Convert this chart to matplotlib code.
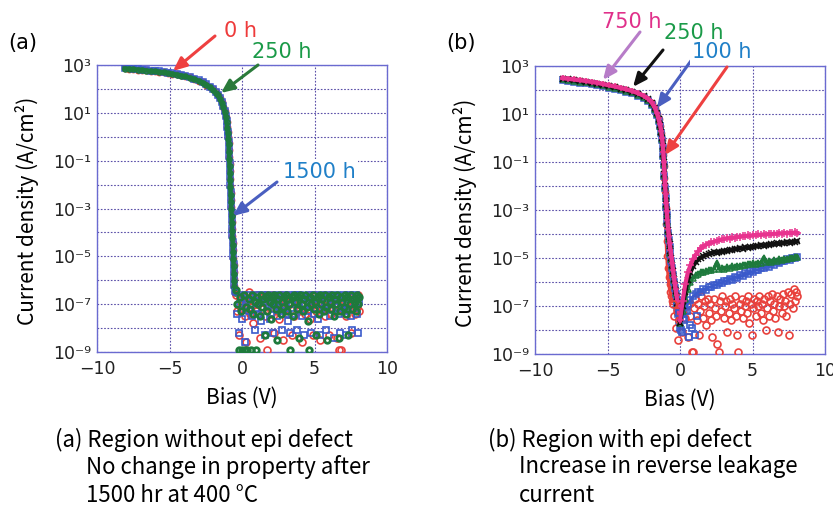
import numpy as np
import matplotlib
matplotlib.use("Agg")
import matplotlib.pyplot as plt

plt.rcParams['font.family'] = ['DejaVu Sans']
LABEL_FONT = ['Noto Sans CJK JP', 'DejaVu Sans']

W, H = 833, 507

# ---- panel (a): region without epi defect (log10 of current density) ----
a_bias_fwd = [-8.10, -7.80, -7.50, -7.20, -6.90, -6.60, -6.30, -6.00, -5.70, -5.40,
              -5.10, -4.80, -4.50, -4.20, -3.90, -3.60, -3.30, -3.00, -2.70, -2.45,
              -2.20, -2.00, -1.82, -1.66, -1.52, -1.40, -1.29, -1.20, -1.12, -1.06,
              -1.01, -0.97, -0.94, -0.92, -0.90, -0.88, -0.86, -0.84, -0.82, -0.80,
              -0.78, -0.76, -0.74, -0.72, -0.70, -0.68, -0.66, -0.64, -0.62, -0.60,
              -0.58, -0.56, -0.54, -0.52, -0.50]
a_logj_fwd_0h = [2.86, 2.85, 2.83, 2.81, 2.80, 2.78, 2.76, 2.74, 2.72, 2.69,
                 2.67, 2.64, 2.61, 2.57, 2.53, 2.48, 2.42, 2.35, 2.27, 2.18,
                 2.08, 1.98, 1.86, 1.74, 1.60, 1.44, 1.26, 1.06, 0.84, 0.62,
                 0.40, 0.18, -0.02, -0.25, -0.55, -0.85, -1.15, -1.45, -1.75, -2.05,
                 -2.35, -2.65, -2.95, -3.25, -3.55, -3.85, -4.15, -4.45, -4.75, -5.05,
                 -5.35, -5.65, -5.95, -6.25, -6.50]
a_logj_fwd_250h = [2.85, 2.84, 2.82, 2.81, 2.79, 2.77, 2.75, 2.73, 2.71, 2.69,
                   2.66, 2.63, 2.60, 2.56, 2.52, 2.47, 2.41, 2.34, 2.26, 2.17,
                   2.07, 1.97, 1.85, 1.73, 1.59, 1.43, 1.25, 1.05, 0.83, 0.60,
                   0.38, 0.15, -0.08, -0.32, -0.62, -0.92, -1.22, -1.52, -1.82, -2.12,
                   -2.42, -2.72, -3.02, -3.32, -3.62, -3.92, -4.22, -4.52, -4.82, -5.12,
                   -5.42, -5.72, -6.02, -6.30, -6.55]
a_logj_fwd_1500h = [2.87, 2.86, 2.84, 2.82, 2.81, 2.79, 2.77, 2.75, 2.73, 2.70,
                    2.68, 2.65, 2.62, 2.58, 2.54, 2.49, 2.43, 2.36, 2.28, 2.19,
                    2.09, 1.99, 1.87, 1.75, 1.61, 1.46, 1.28, 1.08, 0.86, 0.64,
                    0.42, 0.20, 0.02, -0.20, -0.50, -0.80, -1.10, -1.40, -1.70, -2.00,
                    -2.30, -2.60, -2.90, -3.20, -3.50, -3.80, -4.10, -4.40, -4.70, -5.00,
                    -5.30, -5.60, -5.90, -6.20, -6.45]

a_bias_rev = [-0.40, -0.32, -0.23, -0.15, -0.06, 0.03, 0.11, 0.20, 0.28, 0.37,
              0.45, 0.54, 0.62, 0.71, 0.79, 0.88, 0.96, 1.05, 1.13, 1.22,
              1.30, 1.39, 1.47, 1.56, 1.64, 1.73, 1.81, 1.90, 1.98, 2.07,
              2.15, 2.24, 2.32, 2.41, 2.49, 2.58, 2.66, 2.75, 2.83, 2.92,
              3.00, 3.09, 3.17, 3.26, 3.34, 3.43, 3.51, 3.60, 3.68, 3.77,
              3.85, 3.94, 4.02, 4.11, 4.19, 4.28, 4.36, 4.45, 4.53, 4.62,
              4.70, 4.79, 4.87, 4.96, 5.04, 5.13, 5.21, 5.30, 5.38, 5.47,
              5.55, 5.64, 5.72, 5.81, 5.89, 5.98, 6.06, 6.15, 6.23, 6.32,
              6.40, 6.49, 6.57, 6.66, 6.74, 6.83, 6.91, 7.00, 7.08, 7.17,
              7.25, 7.34, 7.42, 7.51, 7.59, 7.68, 7.76, 7.85, 7.93, 8.02, 8.10]
a_logj_rev_0h = [-6.6, -7.3, -8.3, -6.8, -7.2, -7.0, -6.7, -7.5, -8.6, -6.9,
                 -6.5, -7.4, -7.1, -6.6, -7.8, -6.9, -7.3, -6.6, -7.0, -8.4,
                 -6.7, -7.2, -6.9, -7.5, -6.6, -8.9, -7.1, -6.8, -7.4, -6.6,
                 -7.0, -8.2, -6.7, -7.3, -6.9, -7.6, -6.6, -7.1, -8.5, -6.8,
                 -7.2, -6.6, -7.4, -6.9, -7.0, -8.3, -6.7, -7.5, -6.6, -7.1,
                 -6.8, -7.3, -6.6, -8.6, -7.0, -6.7, -7.4, -6.9, -7.2, -6.6,
                 -7.6, -6.8, -8.3, -7.1, -6.6, -7.3, -6.9, -7.0, -8.5, -6.7,
                 -7.2, -6.6, -7.5, -6.8, -7.1, -8.3, -6.6, -7.4, -6.9, -7.0,
                 -6.7, -7.3, -8.4, -8.9, -7.2, -8.9, -6.8, -7.1, -6.6, -7.5,
                 -6.9, -7.2, -6.6, -8.2, -7.0, -6.7, -7.4, -6.8, -7.1, -6.6, -7.3]
a_logj_rev_250h = [-6.4, -7.0, -8.9, -6.7, -7.3, -8.9, -6.6, -8.9, -7.1, -8.9,
                   -6.8, -7.2, -8.9, -6.6, -7.4, -6.9, -8.9, -6.7, -7.0, -7.5,
                   -6.6, -7.1, -6.8, -8.3, -6.7, -7.3, -6.6, -6.9, -7.6, -6.7,
                   -7.0, -6.6, -7.2, -8.5, -6.8, -6.6, -7.4, -6.9, -7.1, -6.7,
                   -6.6, -7.3, -6.8, -7.0, -8.9, -6.7, -7.5, -6.6, -6.9, -7.2,
                   -6.7, -8.4, -6.6, -7.0, -7.3, -6.8, -6.6, -7.1, -7.7, -8.9,
                   -6.7, -7.0, -6.6, -7.2, -6.9, -8.3, -6.7, -7.4, -6.6, -7.0,
                   -6.8, -7.3, -6.6, -7.1, -8.5, -6.7, -6.9, -7.2, -6.6, -7.5,
                   -6.8, -7.0, -6.6, -8.4, -7.3, -6.7, -6.9, -7.1, -6.6, -7.4,
                   -6.7, -8.3, -7.0, -6.6, -7.2, -6.8, -6.9, -7.3, -6.6, -7.0, -6.7]
a_logj_rev_1500h = [-6.5, -7.4, -8.2, -7.0, -6.7, -7.6, -6.6, -8.6, -7.1, -6.8,
                    -7.3, -6.6, -7.0, -7.5, -6.7, -8.1, -7.2, -6.6, -7.4, -6.9,
                    -7.7, -6.6, -7.1, -8.3, -6.8, -7.3, -6.6, -7.6, -7.0, -6.7,
                    -8.2, -7.2, -6.6, -7.5, -6.9, -7.1, -6.7, -8.1, -7.3, -6.6,
                    -7.4, -6.8, -7.7, -6.6, -8.2, -7.0, -6.7, -7.4, -6.6, -8.1,
                    -6.9, -7.2, -6.6, -7.5, -6.8, -8.3, -7.0, -6.7, -7.3, -6.6,
                    -7.1, -8.2, -6.8, -7.4, -6.6, -7.0, -7.6, -6.7, -8.3, -7.2,
                    -6.6, -7.3, -6.9, -8.1, -7.0, -6.6, -7.5, -6.8, -7.2, -8.4,
                    -6.7, -7.1, -6.6, -7.4, -8.2, -6.9, -7.0, -6.6, -7.3, -8.3,
                    -6.8, -7.2, -6.6, -7.5, -8.1, -6.7, -7.0, -6.6, -7.4, -8.2, -6.9]

# ---- panel (b): region with epi defect ----
b_bias_fwd = [-8.10, -7.70, -7.30, -6.90, -6.50, -6.10, -5.70, -5.30, -4.90, -4.50,
              -4.10, -3.70, -3.30, -2.90, -2.50, -2.20, -1.95, -1.75, -1.60, -1.48,
              -1.38, -1.30, -1.24, -1.19, -1.15, -1.11, -1.07, -1.03, -0.99, -0.95,
              -0.91, -0.87, -0.82, -0.77, -0.72, -0.66, -0.60, -0.54, -0.48, -0.42,
              -0.36, -0.30, -0.24, -0.18, -0.12, -0.06]
b_logj_fwd_750h = [2.50, 2.47, 2.44, 2.41, 2.38, 2.34, 2.30, 2.25, 2.20, 2.15,
                   2.09, 2.03, 1.96, 1.87, 1.76, 1.64, 1.48, 1.28, 1.06, 0.82,
                   0.58, 0.30, 0.02, -0.28, -0.60, -0.98, -1.45, -1.95, -2.35, -2.70,
                   -3.05, -3.40, -3.78, -4.08, -4.37, -4.66, -4.95, -5.22, -5.50, -5.80,
                   -6.05, -6.30, -6.55, -6.80, -7.10, -7.40]
b_logj_fwd_500h = [2.47, 2.44, 2.41, 2.38, 2.35, 2.31, 2.27, 2.22, 2.17, 2.12,
                   2.06, 2.00, 1.93, 1.84, 1.73, 1.61, 1.45, 1.25, 1.03, 0.79,
                   0.55, 0.27, -0.02, -0.32, -0.65, -1.02, -1.50, -2.00, -2.40, -2.75,
                   -3.10, -3.45, -3.83, -4.14, -4.43, -4.72, -5.00, -5.28, -5.56, -5.86,
                   -6.12, -6.38, -6.62, -6.88, -7.18, -7.48]
b_logj_fwd_250h = [2.44, 2.41, 2.38, 2.35, 2.32, 2.28, 2.24, 2.19, 2.14, 2.09,
                   2.03, 1.97, 1.90, 1.81, 1.70, 1.58, 1.42, 1.22, 1.00, 0.76,
                   0.52, 0.24, -0.05, -0.36, -0.70, -1.08, -1.55, -2.05, -2.45, -2.80,
                   -3.15, -3.50, -3.88, -4.19, -4.49, -4.78, -5.06, -5.34, -5.62, -5.92,
                   -6.18, -6.44, -6.70, -6.95, -7.25, -7.55]
b_logj_fwd_100h = [2.40, 2.37, 2.34, 2.31, 2.28, 2.24, 2.20, 2.15, 2.10, 2.05,
                   1.99, 1.93, 1.86, 1.77, 1.66, 1.54, 1.38, 1.18, 0.96, 0.72,
                   0.48, 0.20, -0.10, -0.40, -0.75, -1.12, -1.60, -2.10, -2.50, -2.86,
                   -3.20, -3.56, -3.94, -4.25, -4.55, -4.85, -5.14, -5.42, -5.70, -6.00,
                   -6.26, -6.52, -6.78, -7.05, -7.35, -7.65]
b_logj_fwd_0h = [2.46, 2.43, 2.40, 2.37, 2.34, 2.30, 2.26, 2.21, 2.16, 2.11,
                 2.05, 1.99, 1.92, 1.83, 1.72, 1.60, 1.44, 1.24, 1.02, 0.78,
                 0.52, 0.22, -0.10, -0.40, -0.70, -1.15, -1.65, -2.20, -2.90, -3.60,
                 -4.30, -4.90, -5.40, -5.80, -6.10, -6.40, -6.60, -6.80]

b_bias_rev = [0.00, 0.18, 0.36, 0.54, 0.72, 0.90, 1.08, 1.26, 1.44, 1.62,
              1.80, 1.98, 2.16, 2.34, 2.52, 2.70, 2.88, 3.06, 3.24, 3.42,
              3.60, 3.78, 3.96, 4.14, 4.32, 4.50, 4.68, 4.86, 5.04, 5.22,
              5.40, 5.58, 5.76, 5.94, 6.12, 6.30, 6.48, 6.66, 6.84, 7.02,
              7.20, 7.38, 7.56, 7.74, 7.92, 8.10]
b_logj_rev_750h = [-7.60, -6.80, -6.10, -5.60, -5.30, -5.05, -4.86, -4.72, -4.60, -4.52,
                   -4.44, -4.40, -4.35, -4.33, -4.28, -4.27, -4.22, -4.21, -4.17, -4.19,
                   -4.14, -4.15, -4.11, -4.13, -4.08, -4.10, -4.06, -4.08, -4.04, -4.06,
                   -4.02, -4.05, -4.01, -4.03, -3.99, -4.02, -3.98, -4.00, -3.96, -3.99,
                   -3.95, -3.98, -3.94, -3.97, -3.93, -3.96]
b_logj_rev_500h = [-7.70, -7.00, -6.40, -5.90, -5.60, -5.35, -5.18, -5.06, -4.98, -4.92,
                   -4.88, -4.84, -4.80, -4.77, -4.78, -4.73, -4.74, -4.69, -4.71, -4.66,
                   -4.67, -4.62, -4.64, -4.59, -4.61, -4.56, -4.58, -4.53, -4.55, -4.50,
                   -4.52, -4.47, -4.49, -4.44, -4.46, -4.42, -4.43, -4.39, -4.41, -4.37,
                   -4.38, -4.35, -4.36, -4.32, -4.34, -4.31]
b_logj_rev_250h = [-7.70, -7.20, -6.70, -6.30, -6.00, -5.82, -5.72, -5.66, -5.60, -5.58,
                   -5.55, -5.50, -5.52, -5.46, -5.20, -5.45, -5.42, -5.44, -5.38, -5.40,
                   -5.35, -5.37, -5.32, -5.34, -5.28, -5.30, -5.25, -5.27, -5.22, -5.24,
                   -5.19, -5.21, -4.98, -5.17, -5.14, -5.15, -5.10, -5.11, -5.06, -5.08,
                   -5.03, -5.04, -5.00, -5.01, -4.97, -4.96]
b_logj_rev_100h = [-7.90, -7.50, -7.20, -6.90, -6.75, -6.60, -6.52, -6.40, -6.40, -6.30,
                   -6.32, -6.20, -6.22, -6.12, -6.13, -6.03, -6.05, -5.95, -5.97, -5.87,
                   -5.90, -5.80, -5.82, -5.72, -5.75, -5.64, -5.67, -5.56, -5.59, -5.48,
                   -5.51, -5.41, -5.43, -5.33, -5.36, -5.25, -5.28, -5.18, -5.21, -5.11,
                   -5.14, -5.05, -5.08, -4.99, -5.02, -4.95]
b_bias_low_100h = [-0.10, 0.05, 0.15, 0.30, 0.50, 0.70, 0.85, 1.00, 1.15, 0.25, 0.60]
b_logj_low_100h = [-7.3, -8.0, -8.1, -7.6, -7.2, -7.8, -7.9, -8.2, -7.4, -7.0, -8.3]

b_bias_rev_0h = [-0.48, -0.40, -0.31, -0.23, -0.14, -0.06, 0.03, 0.12, 0.20, 0.29,
                 0.37, 0.46, 0.54, 0.63, 0.71, 0.80, 0.88, 0.97, 1.05, 1.14,
                 1.22, 1.31, 1.39, 1.48, 1.56, 1.65, 1.73, 1.82, 1.90, 1.99,
                 2.07, 2.16, 2.24, 2.33, 2.41, 2.50, 2.58, 2.67, 2.75, 2.84,
                 2.92, 3.01, 3.09, 3.18, 3.26, 3.35, 3.43, 3.52, 3.60, 3.69,
                 3.77, 3.86, 3.94, 4.03, 4.11, 4.20, 4.28, 4.37, 4.45, 4.54,
                 4.62, 4.71, 4.79, 4.88, 4.96, 5.05, 5.13, 5.22, 5.30, 5.39,
                 5.47, 5.56, 5.64, 5.73, 5.81, 5.90, 5.98, 6.07, 6.15, 6.24,
                 6.32, 6.41, 6.49, 6.58, 6.66, 6.75, 6.83, 6.92, 7.00, 7.09,
                 7.17, 7.26, 7.34, 7.43, 7.51, 7.60, 7.68, 7.77, 7.85, 7.94,
                 8.02, 8.10]
b_logj_rev_0h = [-6.9, -7.4, -7.9, -7.2, -8.4, -7.6, -7.0, -8.1, -7.3, -6.8,
                 -7.5, -7.0, -8.3, -6.9, -7.4, -8.9, -8.9, -7.1, -6.7, -7.6,
                 -6.9, -8.2, -7.2, -6.6, -7.5, -7.0, -6.8, -7.8, -6.7, -7.3,
                 -6.9, -7.6, -8.3, -6.7, -7.1, -7.4, -8.6, -8.9, -6.8, -7.2,
                 -6.6, -7.5, -7.0, -6.8, -8.1, -7.3, -6.7, -7.6, -6.9, -7.1,
                 -6.6, -7.4, -8.2, -8.9, -6.9, -7.2, -6.7, -7.5, -7.0, -6.8,
                 -7.3, -6.6, -7.7, -6.9, -8.2, -7.1, -6.7, -7.4, -6.8, -7.0,
                 -6.6, -7.3, -6.9, -7.6, -6.7, -8.0, -7.1, -6.6, -7.4, -6.8,
                 -6.5, -7.2, -6.9, -7.5, -6.6, -8.1, -7.0, -6.7, -7.3, -6.5,
                 -7.0, -6.8, -7.4, -6.4, -8.2, -6.9, -6.5, -7.1, -6.3, -6.8,
                 -6.4, -6.6]

RED, BLUE, GREEN = '#e8413c', '#3a5acb', '#1e7a3c'
BLACK, MAGENTA = '#111111', '#e8338f'
SPINE, GRID = '#6a6ad0', '#5a4fa8'

fig = plt.figure(figsize=(W / 100, H / 100), dpi=100)


def px(x, y):
    return x / W, 1 - y / H


def setup(ax):
    ax.set_xlim(-10, 10)
    ax.set_yscale('log')
    ax.set_ylim(1e-9, 1e3)
    ax.set_xticks([-10, -5, 0, 5, 10])
    ax.set_xticklabels(['\u221210', '\u22125', '0', '5', '10'])
    ax.set_yticks([1e3, 1e1, 1e-1, 1e-3, 1e-5, 1e-7, 1e-9])
    ax.set_yticklabels(['10³', '10¹', '10⁻¹', '10⁻³', '10⁻⁵', '10⁻⁷', '10⁻⁹'])
    ax.set_yticks([1e2, 1e0, 1e-2, 1e-4, 1e-6, 1e-8], minor=True)
    ax.yaxis.set_minor_formatter(plt.NullFormatter())
    ax.tick_params(which='both', length=0, labelsize=12.5, colors='#222222')
    ax.tick_params(axis='x', pad=6)
    ax.tick_params(axis='y', pad=4)
    ax.grid(True, which='both', color=GRID, linestyle=(0, (1.5, 1.5)), linewidth=0.8)
    ax.set_axisbelow(True)
    for s in ax.spines.values():
        s.set_color(SPINE)
        s.set_linewidth(1.0)
    ax.set_xlabel('Bias (V)', fontsize=15, family=LABEL_FONT)
    ax.xaxis.set_label_coords(0.5, -0.16)
    ax.xaxis.label.set_va('center')
    ax.set_ylabel('Current density (A/cm²)', fontsize=15, family=LABEL_FONT)
    ax.yaxis.set_label_coords(-0.20, 0.49)


def curve(ax, v, lj, color, marker, ms, lw=3.2):
    ax.plot(v, np.power(10.0, lj), color=color, lw=lw, marker=marker, ms=ms,
            mfc='none', mew=1.1, zorder=3)


def cloud(ax, v, lj, color, marker, ms, mew=1.2):
    ax.plot(v, np.power(10.0, lj), ls='none', marker=marker, ms=ms,
            mfc='none', mec=color, mew=mew, zorder=3)


# ---------- (a) ----------
ax1 = fig.add_axes([97 / W, 1 - 352 / H, 290 / W, 287 / H])
setup(ax1)
curve(ax1, a_bias_fwd, a_logj_fwd_0h, RED, 'o', 4.5)
curve(ax1, a_bias_fwd, a_logj_fwd_1500h, BLUE, 's', 4.2)
curve(ax1, a_bias_fwd, a_logj_fwd_250h, GREEN, 'o', 3.6)
cloud(ax1, a_bias_rev, a_logj_rev_0h, RED, 'o', 5)
cloud(ax1, a_bias_rev, a_logj_rev_1500h, BLUE, 's', 4.6)
cloud(ax1, a_bias_rev, a_logj_rev_250h, GREEN, 'o', 4.0, 2.0)

# ---------- (b) ----------
ax2 = fig.add_axes([535 / W, 1 - 354 / H, 290 / W, 288 / H])
setup(ax2)
curve(ax2, b_bias_fwd[:len(b_logj_fwd_0h)], b_logj_fwd_0h, RED, 'o', 4.5)
curve(ax2, b_bias_fwd, b_logj_fwd_100h, BLUE, 's', 4.2)
curve(ax2, b_bias_fwd, b_logj_fwd_250h, GREEN, '^', 4.2)
curve(ax2, b_bias_fwd, b_logj_fwd_500h, BLACK, 'x', 4.2)
curve(ax2, b_bias_fwd, b_logj_fwd_750h, MAGENTA, '+', 5)
cloud(ax2, b_bias_rev_0h, b_logj_rev_0h, RED, 'o', 5)
cloud(ax2, b_bias_low_100h, b_logj_low_100h, BLUE, 's', 4.6)
curve(ax2, b_bias_rev, b_logj_rev_100h, BLUE, 's', 4.6, lw=2.0)
curve(ax2, b_bias_rev, b_logj_rev_250h, GREEN, '^', 4.6, lw=2.4)
curve(ax2, b_bias_rev, b_logj_rev_500h, BLACK, 'x', 4.6, lw=3.0)
curve(ax2, b_bias_rev, b_logj_rev_750h, MAGENTA, '+', 5.5, lw=3.0)

# panel letters
fig.text(*px(23, 43), '(a)', fontsize=15, ha='center', va='center')
fig.text(*px(461, 43), '(b)', fontsize=15, ha='center', va='center')


def callout(ax, head, tail, color):
    ax.annotate('', xy=(head[0], 10 ** head[1]), xycoords='data',
                xytext=px(*tail), textcoords='figure fraction',
                arrowprops=dict(arrowstyle='-|>,head_length=0.8,head_width=0.35',
                                color=color, lw=2.2, shrinkA=0, shrinkB=0),
                annotation_clip=False, zorder=6)


def tag(x, y, s, color, box=False):
    kw = dict(fontsize=15, ha='center', va='center', color=color, zorder=7)
    if box:
        kw['bbox'] = dict(facecolor='white', edgecolor='none', pad=2)
    fig.text(*px(x, y), s, **kw)


callout(ax1, (-4.76, 2.75), (215, 36), '#ee4040')
callout(ax1, (-1.45, 1.83), (258, 65), '#2a7a3a')
callout(ax1, (-0.62, -3.31), (277, 182), '#4a5fc0')
tag(240, 31, '0 h', '#ee3b3b')
tag(282, 52, '250 h', '#1a9a48')
tag(319, 172, '1500 h', '#2080c8', box=True)

callout(ax2, (-5.31, 2.42), (640, 32), '#b77cc8')
callout(ax2, (-3.24, 2.13), (663, 50), '#111111')
callout(ax2, (-1.59, 1.25), (693, 58), '#4a5fc0')
callout(ax2, (-1.03, -0.71), (727, 67), '#ee4040')
tag(632, 22, '750 h', '#e0308a')
tag(694, 33, '250 h', '#1a9a48', box=True)
tag(722, 52, '100 h', '#2080c8', box=True)

# captions
cap = dict(fontsize=16, ha='left', va='center', family=LABEL_FONT)
fig.text(*px(55, 440), '(a) Region without epi defect', **cap)
fig.text(*px(86, 467), 'No change in property after', **cap)
fig.text(*px(86, 495), '1500 hr at 400 °C', **cap)
fig.text(*px(488, 440), '(b) Region with epi defect', **cap)
fig.text(*px(519, 467), 'Increase in reverse leakage', **cap)
fig.text(*px(519, 495), 'current', **cap)

fig.savefig('out.png', dpi=100)
